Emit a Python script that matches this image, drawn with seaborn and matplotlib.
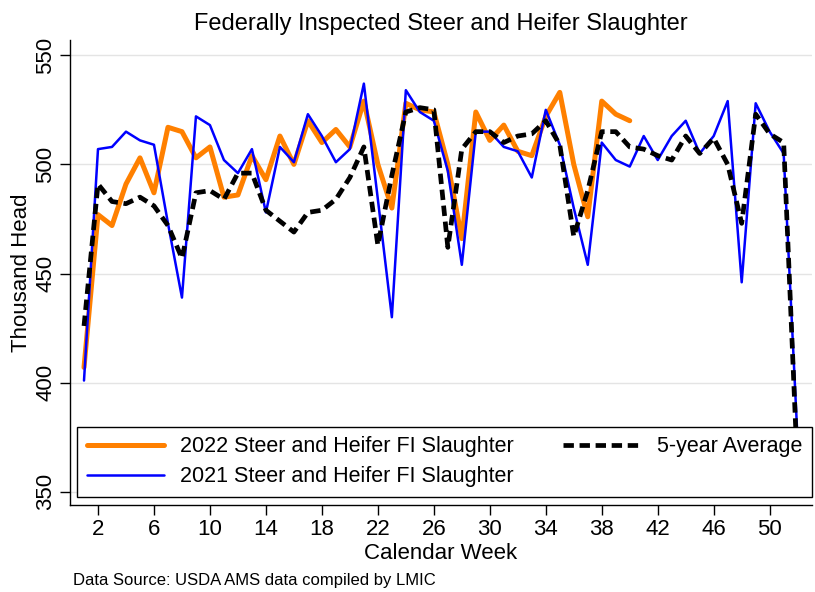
import numpy as np
import pandas as pd
import matplotlib
matplotlib.use('Agg')
import matplotlib.pyplot as plt
import seaborn as sns

weeks = list(range(1, 53))

slaughter_2022 = [407, 477, 472, 491, 503, 487, 517, 515, 503, 508,
                  485, 486, 504, 493, 513, 500, 520, 510, 516, 508,
                  529, 500, 480, 528, 525, 524, 500, 466, 524, 511,
                  518, 506, 504, 522, 533, 500, 476, 529, 523, 520]

slaughter_2021 = [401, 507, 508, 515, 511, 509, 473, 439, 522, 518,
                  502, 496, 507, 478, 508, 501, 523, 513, 501, 507,
                  537, 484, 430, 534, 524, 520, 497, 454, 515, 515,
                  508, 506, 494, 525, 509, 480, 454, 510, 502, 499,
                  513, 502, 513, 520, 505, 513, 529, 446, 528, 515,
                  505, 373]

avg_5yr = [426, 491, 483, 482, 485, 481, 472, 457, 487, 488,
           484, 496, 496, 479, 474, 469, 478, 479, 484, 494,
           508, 463, 495, 524, 526, 525, 462, 507, 515, 515,
           510, 513, 514, 520, 509, 467, 488, 515, 515, 508,
           507, 504, 502, 513, 505, 512, 500, 473, 523, 514,
           510, 358]

x_ticks = list(range(2, 51, 4))
y_ticks = [350, 400, 450, 500, 550]

sns.set_theme(style="white")
plt.rcParams['font.family'] = ['Liberation Sans', 'DejaVu Sans']
plt.rcParams['text.color'] = 'black'
plt.rcParams['axes.labelcolor'] = 'black'
plt.rcParams['xtick.color'] = 'black'
plt.rcParams['ytick.color'] = 'black'

fig = plt.figure(figsize=(8.15, 5.92), dpi=100)
ax = fig.add_axes([0.0859, 0.147, 0.910, 0.7855])

ax.yaxis.grid(True, color='#e4e4e4', linewidth=1)
ax.set_axisbelow(True)

sns.lineplot(x=weeks[:len(slaughter_2022)], y=slaughter_2022, ax=ax, color='#ff8000',
             linewidth=3.6, label='2022 Steer and Heifer FI Slaughter')
sns.lineplot(x=weeks, y=slaughter_2021, ax=ax, color='#0000ff',
             linewidth=1.8, label='2021 Steer and Heifer FI Slaughter')
sns.lineplot(x=weeks, y=avg_5yr, ax=ax, color='black',
             linewidth=3.4, linestyle=(0, (2.2, 1.2)), label='5-year Average')

ax.set_xlim(0, 53)
ax.set_ylim(344, 557)
ax.set_xticks(x_ticks)
ax.set_yticks(y_ticks)
ax.tick_params(axis='both', which='both', direction='out', length=7, width=1,
               color='black', labelsize=16, bottom=True, left=True, pad=3)
for lab in ax.get_yticklabels():
    lab.set_rotation(90)
    lab.set_va('center')

for side in ['top', 'right']:
    ax.spines[side].set_visible(False)
for side in ['left', 'bottom']:
    ax.spines[side].set_color('black')
    ax.spines[side].set_linewidth(1)

ax.set_title('Federally Inspected Steer and Heifer Slaughter', fontsize=17, pad=7)
ax.set_xlabel('Calendar Week', fontsize=16, labelpad=2)
ax.set_ylabel('Thousand Head', fontsize=16, labelpad=2)

leg = ax.legend(loc='lower left', bbox_to_anchor=(0.0094, 0.017, 0.9906, 0.149),
                mode='expand', ncol=2, fontsize=15.5, frameon=True, fancybox=False,
                framealpha=1, edgecolor='black', handlelength=3.6, handletextpad=0.75,
                borderaxespad=0, borderpad=0.45, labelspacing=0.42, columnspacing=2.0)
leg.get_frame().set_linewidth(1)

fig.text(0.0896, 0.012, 'Data Source: USDA AMS data compiled by LMIC', fontsize=12)

plt.savefig('out.png', dpi=100)
plt.close()
